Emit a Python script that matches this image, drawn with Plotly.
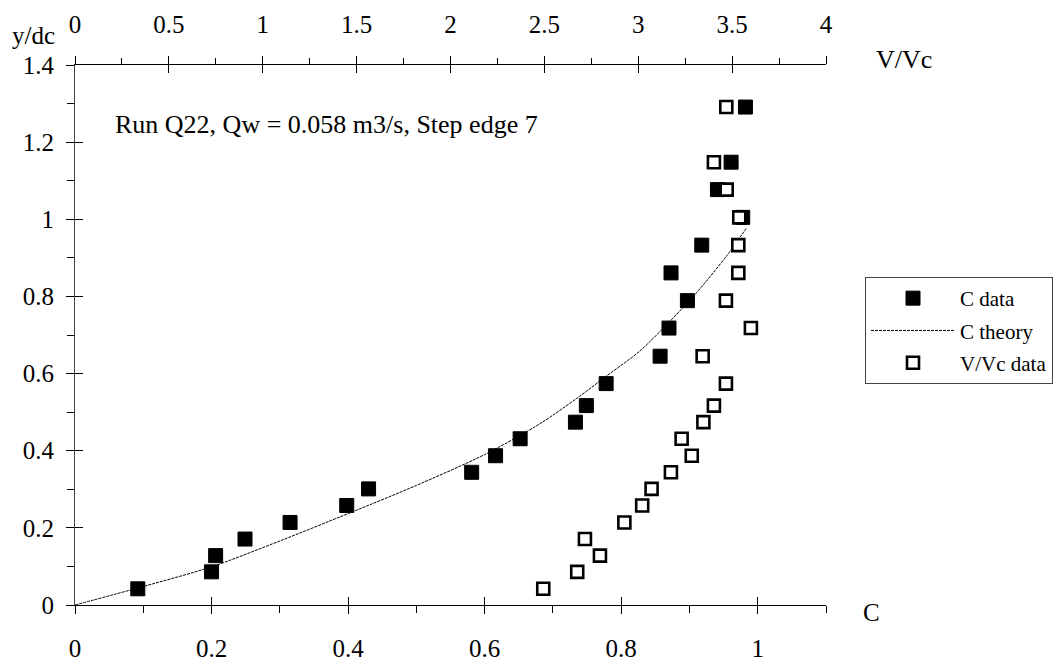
import plotly.graph_objects as go

# ---- data ----
y_dc = [0.042, 0.086, 0.128, 0.171, 0.214, 0.258, 0.301, 0.344, 0.387, 0.431,
        0.474, 0.517, 0.574, 0.645, 0.718, 0.789, 0.861, 0.933, 1.005, 1.077,
        1.148, 1.291]
c_data = [0.092, 0.200, 0.206, 0.249, 0.315, 0.398, 0.430, 0.581, 0.616, 0.652,
          0.733, 0.749, 0.778, 0.857, 0.870, 0.897, 0.873, 0.918, 0.978, 0.941,
          0.961, 0.982]
v_vc = [2.494, 2.675, 2.796, 2.716, 2.926, 3.021, 3.071, 3.174, 3.285, 3.231,
        3.347, 3.403, 3.467, 3.343, 3.600, 3.467, 3.533, 3.533, 3.538, 3.471,
        3.403, 3.469]

c_theory = [0, 0.1, 0.2, 0.3, 0.4, 0.5, 0.6, 0.681, 0.739, 0.778, 0.827, 0.876,
            0.910, 0.954, 0.983]
y_theory = [0, 0.048, 0.099, 0.166, 0.237, 0.310, 0.390, 0.470, 0.541, 0.593,
            0.658, 0.744, 0.809, 0.904, 0.976]

y_ticks = [0, 0.2, 0.4, 0.6, 0.8, 1.0, 1.2, 1.4]
y_ticklabels = ["0", "0.2", "0.4", "0.6", "0.8", "1", "1.2", "1.4"]
c_ticks = [0, 0.2, 0.4, 0.6, 0.8, 1.0]
c_ticklabels = ["0", "0.2", "0.4", "0.6", "0.8", "1"]
v_ticks = [0, 0.5, 1, 1.5, 2, 2.5, 3, 3.5, 4]
v_ticklabels = ["0", "0.5", "1", "1.5", "2", "2.5", "3", "3.5", "4"]

# ---- layout geometry (pixels) ----
W, H = 1061, 662
L, R, T, B = 75, 826, 65, 605
FONT = "Liberation Serif"


def px(xp):
    return (xp - L) / (R - L)


def py(yp):
    return (B - yp) / (B - T)


fig = go.Figure()

fig.add_trace(go.Scatter(
    x=c_data, y=y_dc, mode="markers", name="C data",
    marker=dict(symbol="square", size=14, color="black",
                line=dict(color="black", width=1)),
    xaxis="x", yaxis="y", legendgroup="a"))

fig.add_trace(go.Scatter(
    x=c_theory, y=y_theory, mode="lines", name="C theory",
    line=dict(color="black", width=1, dash="3px,1px", shape="spline",
              smoothing=0.8),
    xaxis="x", yaxis="y", legendgroup="b"))

fig.add_trace(go.Scatter(
    x=v_vc, y=y_dc, mode="markers", name="V/Vc data",
    marker=dict(symbol="square", size=12, color="white",
                line=dict(color="black", width=2.6)),
    xaxis="x2", yaxis="y", legendgroup="c"))

# empty helper traces so the inside-tick overlay axes are drawn
fig.add_trace(go.Scatter(x=[], y=[], xaxis="x3", yaxis="y2",
                         showlegend=False, hoverinfo="skip"))
fig.add_trace(go.Scatter(x=[], y=[], xaxis="x4", yaxis="y2",
                         showlegend=False, hoverinfo="skip"))

tickfont = dict(family=FONT, size=25, color="black")

fig.update_layout(
    width=W, height=H, autosize=False,
    margin=dict(l=L, r=W - R, t=T, b=H - B, pad=0, autoexpand=False),
    paper_bgcolor="white", plot_bgcolor="white",
    font=dict(family=FONT, color="black"),
    showlegend=True,
    legend=dict(x=px(865), y=py(277), xanchor="left", yanchor="top",
                bgcolor="white", bordercolor="#444", borderwidth=1,
                font=dict(family=FONT, size=21, color="black"),
                itemwidth=84, tracegroupgap=2, traceorder="grouped"),
    xaxis=dict(range=[0, 1.1], tickvals=c_ticks, ticktext=c_ticklabels,
               ticks="outside", ticklen=8, tickwidth=1, tickcolor="black",
               showline=True, linecolor="black", linewidth=1,
               showgrid=False, zeroline=False, tickfont=tickfont,
               minor=dict(dtick=0.1, tick0=0, ticks="outside", ticklen=7,
                          tickcolor="black", tickwidth=1, showgrid=False),
               anchor="y", side="bottom", ticklabelstandoff=13,
               automargin=False, fixedrange=True),
    xaxis2=dict(range=[0, 4], tickvals=v_ticks, ticktext=v_ticklabels,
                ticks="outside", ticklen=8, tickwidth=1, tickcolor="black",
                showline=True, linecolor="black", linewidth=1,
                showgrid=False, zeroline=False, tickfont=tickfont,
                minor=dict(dtick=0.25, tick0=0, ticks="outside", ticklen=6,
                           tickcolor="black", tickwidth=1, showgrid=False),
                overlaying="x", anchor="y", side="top",
                ticklabelstandoff=13, automargin=False, fixedrange=True),
    xaxis3=dict(range=[0, 1.1], tickvals=c_ticks, showticklabels=False,
                ticks="inside", ticklen=8, tickwidth=1, tickcolor="black",
                showline=False, showgrid=False, zeroline=False,
                overlaying="x", anchor="y2", side="bottom",
                automargin=False, fixedrange=True),
    xaxis4=dict(range=[0, 4], tickvals=v_ticks, showticklabels=False,
                ticks="inside", ticklen=8, tickwidth=1, tickcolor="black",
                showline=False, showgrid=False, zeroline=False,
                overlaying="x", anchor="y2", side="top",
                automargin=False, fixedrange=True),
    yaxis=dict(range=[0, 1.4], tickvals=y_ticks, ticktext=y_ticklabels,
               ticks="outside", ticklen=8, tickwidth=1, tickcolor="black",
               showline=True, linecolor="#444", linewidth=1,
               showgrid=False, zeroline=False, tickfont=tickfont,
               minor=dict(dtick=0.1, tick0=0, ticks="outside", ticklen=7,
                          tickcolor="black", tickwidth=1, showgrid=False),
               anchor="x", side="left", ticklabelstandoff=7,
               automargin=False, fixedrange=True),
    yaxis2=dict(range=[0, 1.4], tickvals=y_ticks, showticklabels=False,
                ticks="inside", ticklen=8, tickwidth=1, tickcolor="black",
                showline=False, showgrid=False, zeroline=False,
                overlaying="y", anchor="x3", side="left",
                automargin=False, fixedrange=True),
)

annots = [
    dict(text="Run Q22, Qw = 0.058 m3/s, Step edge 7", x=px(113), y=py(124),
         xanchor="left", yanchor="middle", size=26),
    dict(text="y/dc", x=px(33), y=py(36), xanchor="center", yanchor="middle",
         size=25),
    dict(text="V/Vc", x=px(904), y=py(60), xanchor="center", yanchor="middle",
         size=26),
    dict(text="C", x=px(871), y=py(612), xanchor="center", yanchor="middle",
         size=25),
]
for a in annots:
    fig.add_annotation(text=a["text"], x=a["x"], y=a["y"], xref="paper",
                       yref="paper", xanchor=a["xanchor"],
                       yanchor=a["yanchor"], showarrow=False,
                       font=dict(family=FONT, size=a["size"], color="black"))

fig.write_html("out.html", config={"displayModeBar": False},
               post_script="document.body.style.margin='0px';")
